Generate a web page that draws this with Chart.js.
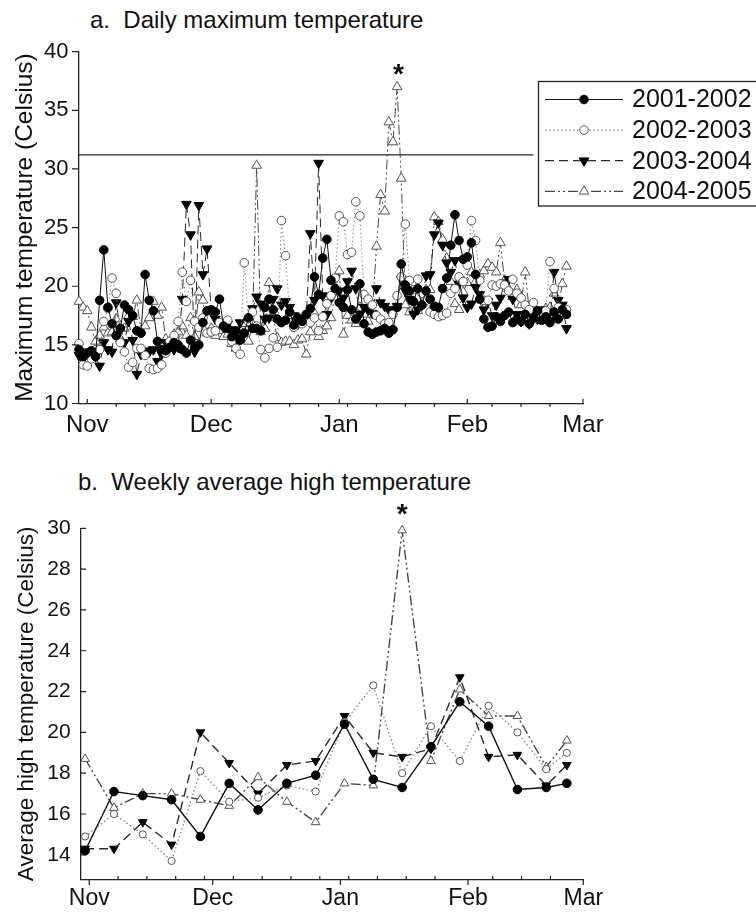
<!DOCTYPE html>
<html>
<head>
<meta charset="utf-8">
<script src="https://cdn.jsdelivr.net/npm/chart.js@4.4.1/dist/chart.umd.min.js"></script>
<style>
  body { margin: 0; background: #fff; width: 756px; height: 913px; overflow: hidden; position: relative; font-family: "Liberation Sans", Arial, sans-serif; }
  .title { position: absolute; font-size: 24px; color: #111; white-space: pre; line-height: 24px; }
  #titleA { left: 90px; top: 8px; }
  #titleB { left: 78px; top: 470px; }
  canvas { position: absolute; left: 0; }
  #grafA { top: 0; }
  #grafB { top: 460px; }
</style>
</head>
<body>
<div class="title" id="titleA">a.  Daily maximum temperature</div>
<div class="title" id="titleB">b.  Weekly average high temperature</div>
<canvas id="grafA" width="756" height="440"></canvas>
<canvas id="grafB" width="756" height="453"></canvas>
<script>
// days counted from Nov 1
const monthDays = [0, 30, 61, 92, 120];
const monthNames = ["Nov", "Dec", "Jan", "Feb", "Mar"];
const weekTickDays = [7, 14, 21, 28, 35, 42, 49, 56, 63, 70, 77, 84, 98, 105, 112];
const seasons = ["2001-2002", "2002-2003", "2003-2004", "2004-2005"];

// panel a: daily maximum, first value is day -2 (Oct 30)
const firstDay = -2;
const daily0102 = [14.6, 14.0,
  14.3, 14.5, 14.0, 18.8, 23.1, 18.2, 16.8,
  15.8, 16.4, 18.4, 18.0, 17.5, 16.2, 16.0,
  21.0, 18.8, 17.9, 15.3, 14.6, 14.5, 14.8,
  15.2, 15.0, 14.6, 14.3, 15.4, 14.8, 15.0,
  16.9, 17.9, 18.0, 17.8, 18.9, 16.6, 16.4,
  15.7, 16.2, 15.4, 16.0, 17.3, 16.4, 16.4,
  16.2, 18.2, 18.9, 18.0, 17.2, 16.9, 17.1,
  17.8, 16.7, 17.3, 17.0, 17.6, 18.1, 20.8,
  19.3, 22.4, 24.0, 20.5, 19.8, 18.6, 18.2,
  19.7, 18.0, 17.2, 20.2, 16.8, 16.1, 15.9,
  16.1, 16.2, 16.4, 16.0, 16.3, 18.2, 21.9,
  20.1, 19.6, 18.7, 19.8, 18.4, 19.6, 18.9,
  18.3, 18.2, 19.8, 20.7, 23.5, 26.1, 23.9,
  22.3, 22.5, 23.7, 21.0, 18.9, 17.2, 16.5,
  16.6, 17.4, 17.0, 17.5, 17.8, 16.9, 17.2,
  17.0, 17.6, 16.8, 17.3, 17.9, 17.1, 17.4,
  16.9, 17.8, 17.2, 18.0, 17.6];
const daily0203 = [15.1, 13.3,
  13.2, 13.8, 14.6, 14.6, 17.0, 18.1, 20.7,
  19.4, 15.2, 14.4, 13.1, 13.5, 14.7, 14.7,
  14.1, 13.0, 12.9, 13.0, 13.3, 14.3, 15.3,
  15.8, 17.0, 21.2, 18.7, 20.5, 17.0, 16.5,
  17.3, 16.0, 16.1, 16.2, 16.9, 16.6, 17.1,
  15.3, 14.7, 14.2, 22.0, 17.0, 17.8, 16.6,
  14.6, 13.9, 14.7, 15.6, 14.8, 25.6, 22.6,
  17.6, 16.5, 17.2, 16.8, 17.4, 16.9, 17.3,
  16.2, 17.4, 18.5, 19.2, 20.7, 26.0, 25.5,
  22.7, 22.9, 27.2, 26.0, 19.3, 18.9, 18.4,
  17.5, 17.2, 16.8, 16.9, 17.6, 19.2, 20.8,
  25.3, 20.5, 19.7, 20.6, 19.4, 18.8, 17.8,
  17.6, 17.4, 17.5, 17.7, 19.4, 19.8, 20.8,
  20.4, 21.8, 25.6, 23.9, 20.5, 18.8, 18.8,
  20.1, 20.0, 20.2, 20.1, 19.6, 20.6, 19.4,
  19.0, 18.4, 18.0, 18.6, 17.9, 17.6, 17.9,
  22.1, 19.8, 18.2, 17.6, 18.0];
const daily0304 = [14.1, 13.8,
  14.4, 14.3, 14.0, 13.2, 15.2, 14.6, 14.4,
  18.6, 16.3, 15.2, 17.0, 15.4, 12.5, 14.2,
  14.5, 14.4, 14.6, 13.6, 14.2, 15.2, 15.0,
  14.6, 14.8, 18.9, 27.0, 24.4, 14.4, 26.9,
  21.0, 23.2, 17.9, 17.2, 16.9, 16.5, 16.8,
  16.3, 15.6, 16.9, 16.0, 17.0, 18.1, 19.1,
  18.5, 17.2, 17.3, 18.9, 19.8, 18.4, 18.7,
  18.2, 17.5, 16.8, 17.1, 17.3, 24.5, 18.8,
  30.5, 19.2, 17.6, 19.0, 20.7, 19.6, 19.0,
  20.4, 21.3, 19.8, 17.6, 18.2, 18.0, 17.7,
  19.8, 18.6, 18.3, 18.0, 18.0, 18.3, 20.6,
  19.6, 18.9, 17.6, 18.0, 18.4, 20.9, 21.0,
  24.4, 25.4, 23.5, 22.0, 21.2, 22.2, 20.2,
  19.0, 18.2, 18.5, 19.9, 19.3, 18.0, 18.7,
  17.5, 18.4, 19.0, 20.3, 20.6, 18.9, 17.6,
  17.0, 17.6, 16.8, 17.9, 17.2, 18.0, 17.3,
  17.1, 21.2, 18.8, 18.4, 16.4];
const daily0405 = [18.7, 18.2,
  17.9, 16.5, 15.3, 15.8, 16.5, 16.0, 16.1,
  17.2, 15.5, 16.4, 17.5, 17.4, 18.8, 16.2,
  16.6, 17.3, 18.7, 17.5, 18.2, 15.5, 15.2,
  15.9, 16.1, 16.6, 15.8, 17.3, 15.7, 19.5,
  18.8, 16.0, 16.4, 15.8, 16.2, 15.7, 15.9,
  15.1, 14.7, 15.6, 16.8, 15.3, 16.8, 30.3,
  16.1, 16.4, 20.3, 17.3, 15.6, 15.2, 15.3,
  15.3, 15.0, 15.4, 15.5, 14.2, 16.1, 17.7,
  15.7, 16.2, 16.6, 17.3, 19.5, 21.3, 15.9,
  17.5, 17.1, 16.8, 18.2, 17.6, 17.0, 17.6,
  23.4, 27.8, 26.4, 34.0, 32.3, 37.0, 29.2,
  18.4, 17.8, 18.2, 17.9, 18.5, 19.7, 19.7,
  25.9, 25.5, 24.0, 22.4, 20.4, 18.5, 18.0,
  19.5, 20.3, 21.2, 20.4, 21.0, 21.3, 21.9,
  21.6, 21.2, 23.7, 20.5, 19.8, 19.1, 19.7,
  18.4, 21.2, 17.9, 17.1, 17.6, 17.8, 18.1,
  18.2, 19.4, 18.3, 20.2, 21.7];
const thresholdDays = [-2, 108];
const thresholdTemp = [31.2, 31.2];
const starA = [75.3, 38.0];

// panel b: weekly averages
const weekDays = [-1, 6, 13, 20, 27, 34, 41, 48, 55, 62, 69, 76, 83, 90, 97, 104, 111, 116];
const weekly0102 = [14.2, 17.1, 16.9, 16.7, 14.9, 17.5, 16.2, 17.5, 17.9, 20.4, 17.7, 17.3, 19.3, 21.5, 20.3, 17.2, 17.3, 17.5];
const weekly0203 = [14.9, 16.0, 15.0, 13.7, 18.1, 16.6, 16.8, 17.4, 17.1, 20.5, 22.3, 18.0, 20.3, 18.6, 21.3, 20.0, 18.2, 19.0];
const weekly0304 = [14.3, 14.3, 15.6, 14.5, 20.0, 18.5, 17.0, 18.4, 18.6, 20.8, 19.0, 18.8, 19.2, 22.7, 18.8, 18.9, 17.4, 18.4];
const weekly0405 = [18.7, 16.3, 17.0, 17.0, 16.7, 16.4, 17.8, 16.6, 15.6, 17.5, 17.4, 29.9, 18.6, 22.1, 20.8, 20.8, 18.3, 19.6];
const starB = [76, 30.65];

const FONT = '"Liberation Sans", Arial, sans-serif';

const looks = [
  { borderColor: '#111', borderDash: [], pointStyle: 'circle', pointRotation: 0, pointBackgroundColor: '#000', pointBorderColor: '#000', big: 4.3, small: 4.3 },
  { borderColor: '#888', borderDash: [1.5, 2.5], pointStyle: 'circle', pointRotation: 0, pointBackgroundColor: '#fff', pointBorderColor: '#555', big: 4.3, small: 3.6 },
  { borderColor: '#2a2a2a', borderDash: [9, 5], pointStyle: 'triangle', pointRotation: 180, pointBackgroundColor: '#000', pointBorderColor: '#000', big: 5.6, small: 5 },
  { borderColor: '#484848', borderDash: [10, 3, 2, 3, 2, 3], pointStyle: 'triangle', pointRotation: 0, pointBackgroundColor: '#fff', pointBorderColor: '#555', big: 5.6, small: 5 }
];

const toPoints = (xs, ys) => ys.map((v, i) => ({ x: xs[i], y: v }));
const dailyPoints = (vals) => vals.map((v, i) => ({ x: firstDay + i, y: v }));

const makeSet = (i, data, weekly) => ({
  label: seasons[i],
  data: data,
  borderColor: looks[i].borderColor,
  borderDash: looks[i].borderDash,
  borderWidth: weekly ? 1.4 : 1,
  pointStyle: looks[i].pointStyle,
  pointRotation: looks[i].pointRotation,
  pointRadius: weekly ? looks[i].small : looks[i].big,
  pointBackgroundColor: looks[i].pointBackgroundColor,
  pointBorderColor: looks[i].pointBorderColor,
  pointBorderWidth: 1,
  tension: 0,
  clip: false,
  season: i
});

function drawMarker(ctx, look, x, y, r) {
  ctx.beginPath();
  if (look.pointStyle === 'circle') {
    ctx.arc(x, y, r, 0, Math.PI * 2);
  } else {
    const dir = look.pointRotation === 180 ? 1 : -1;
    ctx.moveTo(x, y + dir * r);
    ctx.lineTo(x + r * 0.866, y - dir * r * 0.5);
    ctx.lineTo(x - r * 0.866, y - dir * r * 0.5);
    ctx.closePath();
  }
  ctx.setLineDash([]);
  ctx.fillStyle = look.pointBackgroundColor;
  ctx.fill();
  ctx.lineWidth = 1;
  ctx.strokeStyle = look.pointBorderColor;
  ctx.stroke();
}

const axisTicks = {
  id: 'axisTicks',
  afterDraw(chart, args, o) {
    const { ctx, scales: { x, y } } = chart;
    const base = x.top, left = y.right;
    ctx.save();
    ctx.strokeStyle = '#222';
    ctx.lineWidth = 1.2;
    ctx.setLineDash([]);
    ctx.beginPath();
    monthDays.forEach(d => { const p = x.getPixelForValue(d); ctx.moveTo(p, base); ctx.lineTo(p, base + o.major); });
    weekTickDays.forEach(d => { const p = x.getPixelForValue(d); ctx.moveTo(p, base); ctx.lineTo(p, base + o.minor); });
    y.ticks.forEach(t => { const p = y.getPixelForValue(t.value); ctx.moveTo(left, p); ctx.lineTo(left + o.side, p); });
    ctx.stroke();
    ctx.restore();
  }
};

const starMark = {
  id: 'starMark',
  afterDatasetsDraw(chart, args, o) {
    const { ctx, scales: { x, y } } = chart;
    ctx.save();
    ctx.font = 'bold 28px ' + FONT;
    ctx.textAlign = 'center';
    ctx.textBaseline = 'middle';
    ctx.fillStyle = '#111';
    ctx.fillText('*', x.getPixelForValue(o.at[0]), y.getPixelForValue(o.at[1]));
    ctx.restore();
  }
};

const legendBox = {
  id: 'legendBox',
  afterDraw(chart, args, o) {
    if (!o.show) return;
    const ctx = chart.ctx;
    ctx.save();
    ctx.fillStyle = '#fff';
    ctx.fillRect(o.left, o.top, o.width, o.height);
    ctx.lineWidth = 1.3;
    ctx.strokeStyle = '#222';
    ctx.setLineDash([]);
    ctx.strokeRect(o.left, o.top, o.width, o.height);
    chart.data.datasets.filter(ds => ds.season !== undefined).forEach((ds, k) => {
      const look = looks[ds.season];
      const yy = o.firstRow + k * o.rowGap;
      ctx.beginPath();
      ctx.setLineDash(look.borderDash);
      ctx.strokeStyle = look.borderColor;
      ctx.lineWidth = 1.2;
      ctx.moveTo(o.lineFrom, yy);
      ctx.lineTo(o.lineTo, yy);
      ctx.stroke();
      drawMarker(ctx, look, (o.lineFrom + o.lineTo) / 2, yy, look.pointStyle === 'circle' ? 4.3 : 5.6);
      ctx.fillStyle = '#111';
      ctx.font = '25px ' + FONT;
      ctx.textAlign = 'left';
      ctx.textBaseline = 'middle';
      ctx.fillText(ds.label, o.textX, yy + 1);
    });
    ctx.restore();
  }
};

const monthLabel = (v) => {
  const k = monthDays.indexOf(v);
  return k < 0 ? '' : monthNames[k];
};

// panel a
new Chart(document.getElementById('grafA'), {
  type: 'line',
  data: {
    datasets: [
      makeSet(0, dailyPoints(daily0102), false),
      makeSet(1, dailyPoints(daily0203), false),
      makeSet(2, dailyPoints(daily0304), false),
      makeSet(3, dailyPoints(daily0405), false),
      {
        label: 'limit',
        data: toPoints(thresholdDays, thresholdTemp),
        borderColor: '#222',
        borderWidth: 1.4,
        pointRadius: 0,
        clip: false
      }
    ]
  },
  options: {
    responsive: false,
    animation: false,
    layout: { padding: { top: 51.7, right: 173, bottom: 0, left: 0 } },
    plugins: {
      legend: { display: false },
      tooltip: { enabled: false },
      axisTicks: { major: -4.5, minor: 3.5, side: -7 },
      starMark: { at: starA },
      legendBox: { show: true, left: 538.5, top: 81.5, width: 240, height: 124.5, firstRow: 99.5, rowGap: 30.6, lineFrom: 545, lineTo: 623, textX: 632 }
    },
    scales: {
      x: {
        type: 'linear',
        min: -2,
        max: 120,
        afterBuildTicks: (s) => { s.ticks = monthDays.map(v => ({ value: v })); },
        afterFit: (s) => { s.height = 36.5; },
        grid: { display: false, drawTicks: false },
        border: { display: true, color: '#222', width: 1.3 },
        ticks: { autoSkip: false, maxRotation: 0, padding: 7, color: '#111', font: { family: FONT, size: 24 }, callback: monthLabel }
      },
      y: {
        min: 10,
        max: 40,
        afterBuildTicks: (s) => { s.ticks = [10, 15, 20, 25, 30, 35, 40].map(v => ({ value: v })); },
        afterFit: (s) => { s.width = 79; },
        grid: { display: false, drawTicks: false },
        border: { display: true, color: '#222', width: 1.3 },
        ticks: { padding: 10.5, color: '#111', font: { family: FONT, size: 22 } },
        title: { display: true, text: 'Maximum temperature (Celsius)', color: '#111', font: { family: FONT, size: 24.5 }, padding: { top: 11, bottom: 0 } }
      }
    }
  },
  plugins: [axisTicks, starMark, legendBox]
});

// panel b
new Chart(document.getElementById('grafB'), {
  type: 'line',
  data: {
    datasets: [
      makeSet(0, toPoints(weekDays, weekly0102), true),
      makeSet(1, toPoints(weekDays, weekly0203), true),
      makeSet(2, toPoints(weekDays, weekly0304), true),
      makeSet(3, toPoints(weekDays, weekly0405), true)
    ]
  },
  options: {
    responsive: false,
    animation: false,
    layout: { padding: { top: 68.3, right: 172.7, bottom: 0, left: 0 } },
    plugins: {
      legend: { display: false },
      tooltip: { enabled: false },
      axisTicks: { major: 5.7, minor: -3.3, side: 5 },
      starMark: { at: starB },
      legendBox: { show: false }
    },
    scales: {
      x: {
        type: 'linear',
        min: -2,
        max: 120,
        afterBuildTicks: (s) => { s.ticks = monthDays.map(v => ({ value: v })); },
        afterFit: (s) => { s.height = 33.7; },
        grid: { display: false, drawTicks: false },
        border: { display: true, color: '#222', width: 1.3 },
        ticks: { autoSkip: false, maxRotation: 0, padding: 6, color: '#111', font: { family: FONT, size: 23 }, callback: monthLabel }
      },
      y: {
        min: 12.8,
        max: 30,
        afterBuildTicks: (s) => { s.ticks = [14, 16, 18, 20, 22, 24, 26, 28, 30].map(v => ({ value: v })); },
        afterFit: (s) => { s.width = 81; },
        grid: { display: false, drawTicks: false },
        border: { display: true, color: '#222', width: 1.3 },
        ticks: { padding: 10.3, color: '#111', font: { family: FONT, size: 21 } },
        title: { display: true, text: 'Average high temperature (Celsius)', color: '#111', font: { family: FONT, size: 22.5 }, padding: { top: 13, bottom: 0 } }
      }
    }
  },
  plugins: [axisTicks, starMark, legendBox]
});
</script>
</body>
</html>
